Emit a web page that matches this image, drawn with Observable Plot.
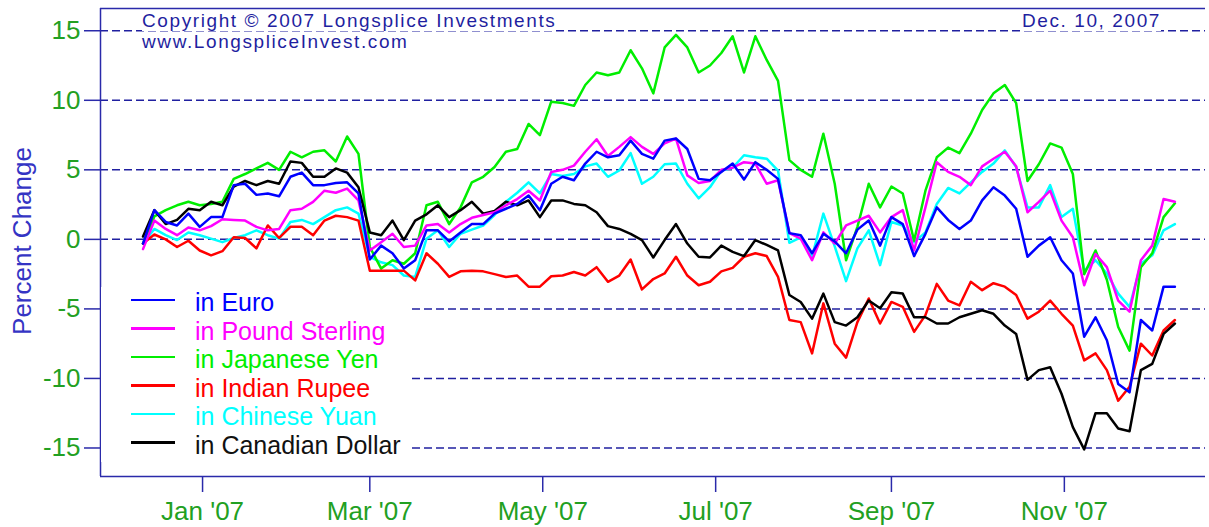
<!DOCTYPE html>
<html><head><meta charset="utf-8">
<script src="https://cdn.jsdelivr.net/npm/d3@7"></script>
<script src="https://cdn.jsdelivr.net/npm/@observablehq/plot@0.6"></script>
<style>
html,body{margin:0;padding:0;background:#fff;}
#wrap{position:relative;width:1209px;height:527px;font-family:"Liberation Sans",Arial,sans-serif;overflow:hidden;}
#wrap svg{position:absolute;left:0;top:0;}
.ov{position:absolute;white-space:nowrap;}
</style></head><body><div id="wrap"></div>
<script>
// Sample dates: every 4 days from Dec 11, 2006 to Dec 10, 2007
const startDate = Date.UTC(2006, 11, 11);
const stepDays = 4;
const nPoints = 92;
const dates = d3.range(nPoints).map(i => new Date(startDate + i * stepDays * 864e5));

const euro = [-0.3,2.1,1.25,1.0,1.85,0.9,1.6,1.6,3.9,4.0,3.2,3.3,3.1,4.5,4.8,3.9,3.9,4.05,4.1,
  3.3,-1.45,-0.45,-1.0,-2.1,-1.5,0.65,0.65,-0.15,0.5,1.1,1.1,1.85,2.2,2.55,3.15,2.1,4.0,
  4.5,4.25,5.45,6.3,5.9,6.05,7.1,6.15,5.8,7.1,7.25,6.5,4.35,4.25,4.85,5.45,4.3,5.55,5.0,
  4.35,0.45,0.3,-1.0,0.4,-0.15,-1.0,0.7,1.35,-0.45,1.6,1.1,-1.2,0.4,2.3,1.4,0.75,1.35,
  2.8,3.75,3.15,2.2,-1.25,-0.45,0.15,-1.5,-2.45,-7.0,-5.6,-7.25,-10.4,-11.0,-5.8,-6.55,-3.4,-3.4];
const pound = [-0.7,1.35,0.75,0.3,0.85,0.65,0.95,1.45,1.4,1.35,0.9,0.65,0.75,2.1,2.2,2.7,3.5,3.35,3.65,
  2.8,-0.8,-0.2,0.4,-0.55,-0.45,1.0,1.1,0.5,1.1,1.55,1.75,1.95,2.45,2.9,3.5,2.8,4.85,
  5.0,5.3,6.3,7.2,6.0,6.65,7.35,6.65,6.15,6.9,7.25,4.6,4.05,4.2,5.0,5.15,5.55,5.45,4.0,
  4.25,0.45,0.05,-1.5,0.5,-0.3,1.0,1.35,1.7,0.5,1.6,2.1,-0.8,2.3,5.55,4.85,4.5,3.9,
  5.25,5.8,6.3,5.25,1.95,2.7,3.5,1.35,0.15,-3.3,-1.05,-2.0,-4.4,-5.2,-1.5,-0.45,2.9,2.7];
const yen = [-0.3,1.65,2.1,2.45,2.7,2.45,2.55,2.7,4.35,4.7,5.1,5.5,5.0,6.3,5.9,6.3,6.4,5.6,7.4,
  6.15,-0.55,-2.1,-1.5,-1.75,-1.0,2.45,2.7,1.1,2.3,4.1,4.5,5.2,6.3,6.5,8.3,7.5,9.9,
  9.8,9.6,11.1,12.0,11.8,12.0,13.6,12.3,10.5,13.8,14.7,13.8,12.0,12.5,13.4,14.6,12.0,14.6,12.9,
  11.4,5.7,5.0,4.5,7.6,4.0,-1.5,0.9,4.0,2.3,3.8,3.3,-0.1,3.5,5.9,6.6,6.2,7.6,
  9.3,10.5,11.1,9.8,4.2,5.4,6.9,6.6,4.7,-2.5,-0.8,-2.9,-6.3,-8.0,-2.0,-1.0,1.6,2.6];
const rupee = [-0.3,0.35,0.0,-0.55,-0.1,-0.8,-1.15,-0.85,0.15,0.1,-0.65,1.0,0.1,0.9,0.9,0.3,1.35,1.7,1.6,
  1.35,-2.25,-2.25,-2.25,-2.25,-2.95,-1.0,-1.75,-2.7,-2.3,-2.25,-2.3,-2.5,-2.7,-2.6,-3.4,-3.4,-2.65,
  -2.6,-2.35,-2.6,-2.0,-3.05,-2.6,-1.45,-3.6,-2.85,-2.45,-1.25,-2.6,-3.3,-3.05,-2.3,-2.05,-1.25,-1.0,-1.2,
  -2.7,-5.8,-5.95,-8.2,-4.6,-7.5,-8.5,-5.95,-4.25,-6.05,-4.5,-4.85,-6.65,-5.45,-3.2,-4.4,-4.75,-3.05,
  -3.65,-3.15,-3.4,-4.0,-5.7,-5.2,-4.4,-5.35,-6.2,-8.7,-8.2,-9.4,-11.6,-10.6,-7.5,-8.35,-6.55,-5.8];
const yuan = [-0.3,0.75,0.3,-0.05,0.5,0.3,0.05,-0.2,0.1,0.3,0.65,0.3,0.05,1.25,1.4,1.1,1.6,2.1,2.3,
  1.85,-1.25,-1.65,-1.85,-2.6,-2.7,0.05,0.65,-0.55,0.4,0.7,1.0,1.75,2.7,3.35,4.1,3.3,4.7,
  4.55,4.7,5.25,5.45,4.5,4.95,6.2,4.0,4.5,5.4,5.45,4.0,2.95,3.75,4.95,5.15,6.05,5.9,5.8,
  4.95,-0.25,0.15,-1.25,1.85,-0.5,-3.0,-0.65,0.65,-1.85,1.25,1.0,-0.2,0.5,2.55,3.7,3.3,4.1,
  4.85,5.45,6.4,5.2,2.3,2.3,3.9,1.6,2.2,-2.25,-1.5,-2.45,-3.9,-4.85,-1.75,-1.15,0.65,1.1];
const cad = [0.2,2.1,1.1,1.4,2.2,2.1,2.7,2.45,3.8,4.2,3.9,4.2,4.0,5.6,5.5,4.5,4.5,5.1,4.8,
  3.75,0.5,0.3,1.35,-0.05,1.35,1.8,2.45,1.6,2.1,2.7,1.85,2.05,2.7,2.45,2.8,1.6,2.8,
  2.8,2.55,2.45,1.95,0.95,0.75,0.4,-0.05,-1.3,-0.05,1.1,-0.3,-1.25,-1.3,-0.45,-0.9,-1.2,-0.05,-0.4,
  -0.8,-4.0,-4.5,-5.7,-3.9,-5.95,-6.2,-5.6,-4.4,-4.95,-3.8,-3.9,-5.6,-5.6,-6.05,-6.05,-5.6,-5.35,
  -5.1,-5.35,-6.2,-6.8,-10.1,-9.4,-9.2,-11.1,-13.5,-15.1,-12.5,-12.5,-13.6,-13.8,-9.4,-8.95,-6.8,-6.05];

const seriesNames = ["in Euro","in Pound Sterling","in Japanese Yen","in Indian Rupee","in Chinese Yuan","in Canadian Dollar"];
const seriesColors = ["#0000ff","#ff00ff","#00ee00","#ff0000","#00ffff","#000000"];
const seriesValues = [euro, pound, yen, rupee, yuan, cad];
const drawOrder = [4, 2, 3, 5, 1, 0];

const yTicks = [-15,-10,-5,0,5,10,15];
const yTickLabels = ["-15","-10","-5","0","5","10","15"];
const xTickDates = [Date.UTC(2007,0,1),Date.UTC(2007,2,1),Date.UTC(2007,4,1),Date.UTC(2007,6,1),Date.UTC(2007,8,1),Date.UTC(2007,10,1)].map(t => new Date(t));
const xTickLabels = ["Jan '07","Mar '07","May '07","Jul '07","Sep '07","Nov '07"];

const xDomain = [new Date(Date.UTC(2006,10,26)), new Date(Date.UTC(2007,11,20,19))];
const yDomain = [-17.05, 16.6];

const copyrightLines = ["Copyright \u00a9 2007 Longsplice Investments", "www.LongspliceInvest.com"];
const dateText = "Dec. 10, 2007";
const yTitle = "Percent Change";

const navy = "#2a2aaa";
const tickGreen = "#22a022";

const lineMarks = drawOrder.map(s =>
  Plot.lineY(seriesValues[s].map((v, i) => ({date: dates[i], value: v})),
    {x: "date", y: "value", stroke: seriesColors[s], strokeWidth: 2.5}));

const chart = Plot.plot({
  width: 1209, height: 527,
  marginTop: 8, marginBottom: 51, marginLeft: 100, marginRight: 4,
  x: {type: "utc", domain: xDomain},
  y: {domain: yDomain},
  style: {fontFamily: '"Liberation Sans", Arial, sans-serif', fontSize: "26px", background: "white", overflow: "visible"},
  marks: [
    Plot.gridY(yTicks, {stroke: "#2020a0", strokeOpacity: 1, strokeWidth: 1.5, strokeDasharray: "8,4"}),
    ...lineMarks,
    Plot.ruleY([yDomain[1]], {stroke: navy, strokeWidth: 1.5}),
    Plot.ruleY([yDomain[0]], {stroke: navy, strokeWidth: 1.5}),
    Plot.ruleX([xDomain[0]], {stroke: navy, strokeWidth: 1.5}),
    Plot.axisY(yTicks, {tickSize: 16, tickPadding: 4, fontSize: 26, fill: tickGreen, stroke: navy, strokeWidth: 1.5,
      tickFormat: d => yTickLabels[yTicks.indexOf(d)], label: null}),
    Plot.axisX(xTickDates, {tickSize: 16, tickPadding: 9, fontSize: 26, fill: tickGreen, stroke: navy, strokeWidth: 1.5,
      tickFormat: d => xTickLabels[xTickDates.findIndex(t => +t === +d)], label: null})
  ]
});

const wrap = document.getElementById("wrap");
wrap.appendChild(chart);

function addText(txt, {left, right, baseline, size, spacing, color, bg}) {
  const d = document.createElement("div");
  d.className = "ov";
  if (left != null) d.style.left = left + "px";
  if (right != null) d.style.right = right + "px";
  d.style.top = (baseline - 0.8465 * size) + "px";
  d.style.fontSize = size + "px";
  d.style.lineHeight = size + "px";
  d.style.letterSpacing = spacing + "px";
  d.style.color = color;
  const s = document.createElement("span");
  s.textContent = txt;
  if (bg) s.style.background = "#fff";
  d.appendChild(s);
  wrap.appendChild(d);
  return d;
}
addText(copyrightLines[0], {left: 142, baseline: 27, size: 19, spacing: 1.6, color: "#1f1fa0", bg: true});
addText(copyrightLines[1], {left: 142, baseline: 48.5, size: 19, spacing: 1.6, color: "#1f1fa0", bg: false});
addText(dateText, {right: 1209 - 1161, baseline: 27, size: 19, spacing: 1.6, color: "#1f1fa0", bg: true});

// y title
const yt = document.createElement("div");
yt.className = "ov";
yt.textContent = yTitle;
Object.assign(yt.style, {left: (22 - 150) + "px", top: (241 - 13) + "px", width: "300px", height: "26px",
  lineHeight: "26px", fontSize: "26px", textAlign: "center", color: "#3434c4", transform: "rotate(-90deg)", transformOrigin: "50% 50%"});
wrap.appendChild(yt);

// legend
const leg = document.createElement("div");
leg.className = "ov";
Object.assign(leg.style, {left: "101px", top: "287px", width: "309px", height: "175px", background: "#fff"});
wrap.appendChild(leg);
seriesNames.forEach((name, i) => {
  const yc = 300 + 28.5 * i - 287;
  const sw = document.createElement("div");
  Object.assign(sw.style, {position: "absolute", left: "30px", width: "44px", top: (yc - 1.25) + "px", height: "2.5px", background: seriesColors[i]});
  leg.appendChild(sw);
  const t = document.createElement("div");
  t.textContent = name;
  Object.assign(t.style, {position: "absolute", left: "94px", top: (yc + 11.5 - 0.8465*25) + "px", fontSize: "25px", lineHeight: "25px",
    color: seriesColors[i] === "#000000" ? "#111" : seriesColors[i], whiteSpace: "nowrap"});
  leg.appendChild(t);
});
</script></body></html>
